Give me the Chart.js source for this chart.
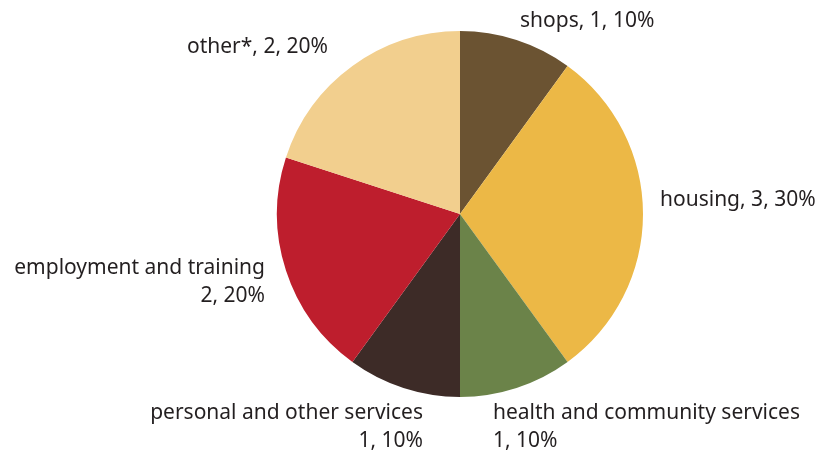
<!DOCTYPE html>
<html lang="en">
<head>
  <meta charset="UTF-8" />
  <title>Pie chart</title>
  <script src="https://cdn.jsdelivr.net/npm/chart.js"></script>
  <style>
    html, body { margin: 0; padding: 0; background: #fff; }
    #wrap { width: 819px; height: 456px; position: relative; }
  </style>
</head>
<body>
<div id="wrap">
  <canvas id="pie" width="819" height="456"></canvas>
</div>
<script type="text/javascript">
  // Chart data
  const categories = ["shops", "housing", "health and community services", "personal and other services", "employment and training", "other*"];
  const counts = [1, 3, 1, 1, 2, 2];
  const colors = ["#6B5332", "#ECB846", "#6B8349", "#3D2B27", "#BE1E2D", "#F2CF8E"];

  // Where each label sits: [x, y of first line, align, split into two lines]
  const labelPlaces = [
    [520, 21, "left", false],
    [660, 200, "left", false],
    [493, 413, "left", true],
    [423, 413, "right", true],
    [265, 268, "right", true],
    [328, 47, "right", false]
  ];

  const total = counts.reduce((a, b) => a + b);

  const labelPlugin = {
    id: "sliceLabels",
    afterDraw(chart) {
      const ctx = chart.ctx;
      ctx.save();
      ctx.font = "21px 'Noto Sans'";
      ctx.fillStyle = "#231F20";
      ctx.textBaseline = "middle";
      categories.forEach((name, i) => {
        const [x, y, align, twoLines] = labelPlaces[i];
        const pct = Math.round(counts[i] / total * 100) + "%";
        ctx.textAlign = align;
        if (twoLines) {
          ctx.fillText(name, x, y);
          ctx.fillText(counts[i] + ", " + pct, x, y + 28);
        } else {
          ctx.fillText(name + ", " + counts[i] + ", " + pct, x, y);
        }
      });
      ctx.restore();
    }
  };

  new Chart(document.getElementById("pie"), {
    type: "pie",
    data: {
      labels: categories,
      datasets: [{
        data: counts,
        backgroundColor: colors,
        borderWidth: 0
      }]
    },
    options: {
      responsive: false,
      animation: false,
      layout: { padding: { top: 31, bottom: 59, left: 277, right: 176 } },
      plugins: {
        legend: { display: false },
        tooltip: { enabled: false }
      }
    },
    plugins: [labelPlugin]
  });
</script>
</body>
</html>
